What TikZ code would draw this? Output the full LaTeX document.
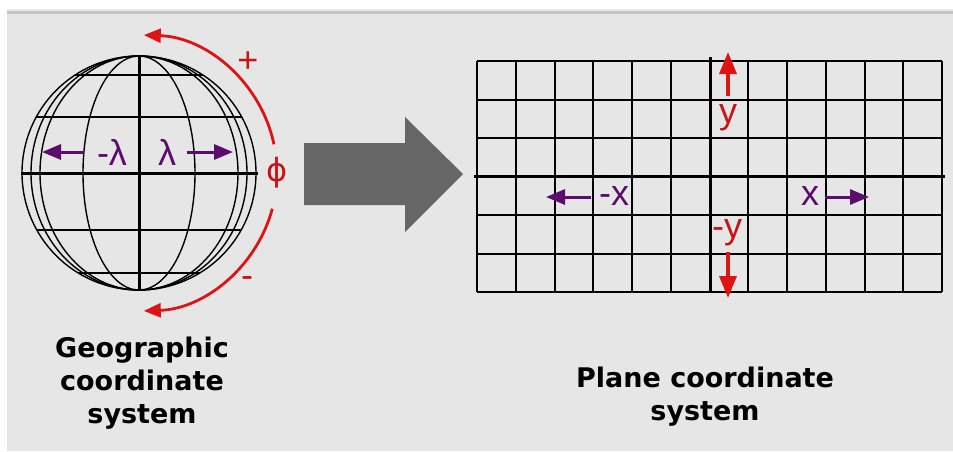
\documentclass[tikz,border=0pt]{standalone}
\usepackage{fontspec}
\setmainfont{Liberation Sans}
\newfontfamily\capfont{DejaVu Sans}
\usetikzlibrary{arrows.meta}
\definecolor{bg}{RGB}{230,230,230}
\definecolor{topline}{RGB}{196,196,196}
\definecolor{plum}{RGB}{92,12,108}
\definecolor{redarr}{RGB}{222,20,20}
\definecolor{redtxt}{RGB}{200,20,20}
\definecolor{bigarrow}{RGB}{102,102,102}
\tikzset{
  globeline/.style={black, line width=1.4pt},
  parline/.style={black, line width=1.8pt},
  axisline/.style={black, line width=3pt},
  gridline/.style={black, line width=2pt},
  parrow/.style={plum, line width=3pt, -{Triangle[length=19pt,width=15pt]}},
  rarrow/.style={redarr, line width=3.5pt, -{Triangle[length=22pt,width=17pt]}},
  arcarrow/.style={redarr, line width=2.8pt, -{Triangle[length=17pt,width=14pt]}},
  glyph/.style={font=\fontsize{36}{40}\selectfont, inner sep=0pt},
  caption/.style={font=\capfont\bfseries\fontsize{27}{33}\selectfont, align=center, inner sep=0pt}
}
\begin{document}
\begin{tikzpicture}[x=1pt,y=-1pt]
\useasboundingbox (0,0) rectangle (953,451);
\fill[white] (0,0) rectangle (953,451);
\fill[bg] (7,9) rectangle (953,451);
\draw[topline, line width=3pt] (7,12) -- (953,12);

% globe
\coordinate (G) at (139,173);
\begin{scope}
  \clip (G) circle[radius=117];
  \draw[parline] (0,75) -- (280,75);
  \draw[parline] (0,117) -- (280,117);
  \draw[parline] (0,230) -- (280,230);
  \draw[parline] (0,273) -- (280,273);
\end{scope}
\draw[globeline] (G) circle[radius=117];
\draw[globeline] (G) ellipse[x radius=108, y radius=117];
\draw[globeline] (G) ellipse[x radius=99, y radius=117];
\draw[globeline] (G) ellipse[x radius=56, y radius=117];
\draw[axisline] (21,173) -- (258,173);
\draw[axisline] (139,56) -- (139,290);

% lambda labels
\node[glyph, text=plum] (lamneg) at (112,152) {-λ};
\node[glyph, text=plum] (lampos) at (167,152) {λ};
\coordinate (la1) at (84,152); \coordinate (la2) at (42,152);
\coordinate (ra1) at (187,152); \coordinate (ra2) at (233,152);
\draw[parrow] (la1) -- (la2);
\draw[parrow] (ra1) -- (ra2);

% phi arcs
\draw[arcarrow] (G) ++(-12:138) arc[start angle=-12, end angle=-88, radius=138];
\draw[arcarrow] (G) ++(15:138) arc[start angle=15, end angle=88, radius=138];
\node[glyph, text=redtxt, font=\capfont\fontsize{32}{36}\selectfont] (phi) at (277,173) {ϕ};
\node[glyph, text=redtxt] (plus) at (248,62) {+};
\node[glyph, text=redtxt] (minus) at (247,282) {-};

% big arrow
\fill[bigarrow] (304,143) -- (405,143) -- (405,117) -- (463,174) -- (405,232) -- (405,205) -- (304,205) -- cycle;

% grid
\foreach \i in {0,...,12} \draw[gridline] ({477+\i*38.75},61) -- ({477+\i*38.75},292);
\foreach \j in {0,...,6} \draw[gridline] (477,{61+\j*38.5}) -- (942,{61+\j*38.5});
\draw[axisline] (710,57) -- (710,293);
\draw[axisline] (474,176) -- (945,176);

% plane labels
\node[glyph, text=redtxt] (ypos) at (728,118) {y};
\node[glyph, text=redtxt] (yneg) at (727,233) {-y};
\coordinate (ua1) at (728,96); \coordinate (ua2) at (728,52);
\coordinate (da1) at (728,252); \coordinate (da2) at (728,298);
\draw[rarrow] (ua1) -- (ua2);
\draw[rarrow] (da1) -- (da2);
\node[glyph, text=plum] (xneg) at (614,196) {-x};
\node[glyph, text=plum] (xpos) at (810,196) {x};
\coordinate (xa1) at (591,197); \coordinate (xa2) at (546,197);
\coordinate (xb1) at (825,197); \coordinate (xb2) at (869,197);
\draw[parrow] (xa1) -- (xa2);
\draw[parrow] (xb1) -- (xb2);

% captions
\node[caption] (geo) at (142,383) {Geographic\\coordinate\\system};
\node[caption] (plane) at (705,397) {Plane coordinate\\system};
\end{tikzpicture}
\end{document}
